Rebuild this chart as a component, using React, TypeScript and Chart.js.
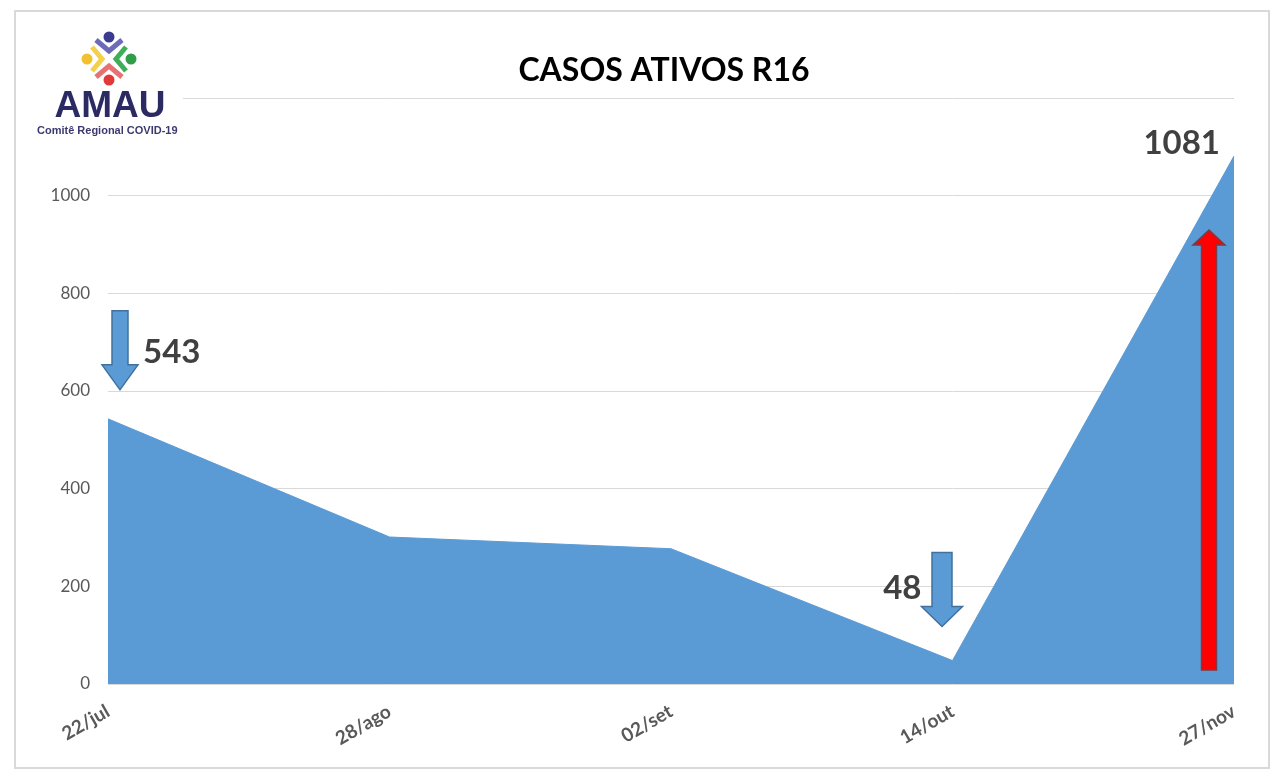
import React, { useEffect, useRef } from "react";
import { Chart, registerables } from "chart.js";

Chart.register(...registerables);

const categories = ["22/jul", "28/ago", "02/set", "14/out", "27/nov"];
const activeCases = [543, 301, 277, 48, 1081];
const yMin = 0;
const yMax = 1200;
const yStep = 200;
const titleText = "CASOS ATIVOS R16";
const calloutLabels = ["543", "48", "1081"];

const FONT = "Lato, 'Open Sans', 'DejaVu Sans', sans-serif";
const LOGO_FONT = "'Liberation Sans', Arial, sans-serif";

function blueDownArrow(ctx: CanvasRenderingContext2D, cx: number, top: number, tip: number, shaftW: number, headW: number, headH: number) {
  const headTop = tip - headH;
  ctx.beginPath();
  ctx.moveTo(cx - shaftW / 2, top);
  ctx.lineTo(cx + shaftW / 2, top);
  ctx.lineTo(cx + shaftW / 2, headTop);
  ctx.lineTo(cx + headW / 2, headTop);
  ctx.lineTo(cx, tip);
  ctx.lineTo(cx - headW / 2, headTop);
  ctx.lineTo(cx - shaftW / 2, headTop);
  ctx.closePath();
  ctx.fillStyle = "#5b9bd5";
  ctx.fill();
  ctx.strokeStyle = "#41719c";
  ctx.lineWidth = 1.5;
  ctx.stroke();
}

function redUpArrow(ctx: CanvasRenderingContext2D, cx: number, bottom: number, tip: number, shaftW: number, headW: number, headH: number) {
  const headBase = tip + headH;
  ctx.beginPath();
  ctx.moveTo(cx - shaftW / 2, bottom);
  ctx.lineTo(cx + shaftW / 2, bottom);
  ctx.lineTo(cx + shaftW / 2, headBase);
  ctx.lineTo(cx + headW / 2, headBase);
  ctx.lineTo(cx, tip);
  ctx.lineTo(cx - headW / 2, headBase);
  ctx.lineTo(cx - shaftW / 2, headBase);
  ctx.closePath();
  ctx.fillStyle = "#ff0000";
  ctx.fill();
  ctx.strokeStyle = "#7a3b4a";
  ctx.lineWidth = 1.5;
  ctx.stroke();
}

function chevronPerson(ctx: CanvasRenderingContext2D, hx: number, hy: number, r: number, headColor: string, armColor: string, pts: number[][]) {
  ctx.beginPath();
  ctx.moveTo(pts[0][0], pts[0][1]);
  ctx.lineTo(pts[1][0], pts[1][1]);
  ctx.lineTo(pts[2][0], pts[2][1]);
  ctx.strokeStyle = armColor;
  ctx.lineWidth = 5;
  ctx.lineCap = "butt";
  ctx.lineJoin = "miter";
  ctx.stroke();
  ctx.beginPath();
  ctx.arc(hx, hy, r, 0, Math.PI * 2);
  ctx.fillStyle = headColor;
  ctx.fill();
}

const framePlugin = {
  id: "frame",
  beforeDraw(chart: any) {
    const ctx = chart.ctx as CanvasRenderingContext2D;
    ctx.save();
    ctx.fillStyle = "#ffffff";
    ctx.fillRect(0, 0, chart.width, chart.height);
    ctx.strokeStyle = "#d9d9d9";
    ctx.lineWidth = 2;
    ctx.strokeRect(15, 11, 1254, 757);
    ctx.restore();
  },
};

const annotationPlugin = {
  id: "annotations",
  afterDatasetsDraw(chart: any) {
    const ctx = chart.ctx as CanvasRenderingContext2D;
    const xs = chart.scales.x;
    const ys = chart.scales.y;
    ctx.save();
    const p0x = xs.getPixelForValue(0);
    const p0y = ys.getPixelForValue(activeCases[0]);
    const p3x = xs.getPixelForValue(3);
    const p3y = ys.getPixelForValue(activeCases[3]);
    const p4x = xs.getPixelForValue(4);
    const p4y = ys.getPixelForValue(activeCases[4]);
    const baseY = ys.getPixelForValue(0);

    blueDownArrow(ctx, p0x + 12, p0y - 108, p0y - 29, 16, 36, 25);
    blueDownArrow(ctx, p3x - 10.5, p3y - 108, p3y - 34, 20, 41, 20);
    redUpArrow(ctx, p4x - 25, baseY - 14, p4y + 74, 15, 32, 15);

    ctx.fillStyle = "#404040";
    ctx.font = `bold 33px ${FONT}`;
    ctx.textBaseline = "middle";
    ctx.textAlign = "left";
    ctx.fillText(calloutLabels[0], p0x + 35, p0y - 66);
    ctx.textAlign = "right";
    ctx.fillText(calloutLabels[1], p3x - 31, p3y - 72);
    ctx.fillText(calloutLabels[2], p4x - 14, p4y - 13);

    ctx.fillStyle = "#000000";
    ctx.font = `bold 32px ${FONT}`;
    ctx.textAlign = "center";
    ctx.fillText(titleText, 664, 71);
    ctx.restore();
  },
  afterDraw(chart: any) {
    const ctx = chart.ctx as CanvasRenderingContext2D;
    ctx.save();
    ctx.fillStyle = "#ffffff";
    ctx.fillRect(25, 20, 158, 122);
    chevronPerson(ctx, 109, 37, 5.5, "#3b3b8f", "#6b6bb8", [[96, 40], [109, 51], [122, 40]]);
    chevronPerson(ctx, 131, 59, 5.5, "#2f9e48", "#3fae58", [[126, 47], [116, 59], [126, 71]]);
    chevronPerson(ctx, 87, 59, 5.5, "#f2c12e", "#f5d04a", [[92, 47], [102, 59], [92, 71]]);
    chevronPerson(ctx, 109, 80, 5.5, "#e23838", "#e87272", [[96, 77], [109, 66], [122, 77]]);
    ctx.fillStyle = "#2b2a62";
    ctx.font = `bold 37px ${LOGO_FONT}`;
    ctx.textAlign = "center";
    ctx.textBaseline = "alphabetic";
    ctx.fillText("AMAU", 110, 117, 112);
    ctx.fillStyle = "#3a3a70";
    ctx.font = `bold 11px ${LOGO_FONT}`;
    ctx.textAlign = "left";
    ctx.fillText("Comitê Regional COVID-19", 37, 134, 146);
    ctx.restore();
  },
};

export default function App() {
  const canvasRef = useRef<HTMLCanvasElement | null>(null);

  useEffect(() => {
    if (!canvasRef.current) return;
    const chart = new Chart(canvasRef.current, {
      type: "line",
      data: {
        labels: categories,
        datasets: [
          {
            label: "Casos ativos",
            data: activeCases,
            fill: "origin",
            backgroundColor: "#5b9bd5",
            borderColor: "#5b9bd5",
            borderWidth: 1,
            pointRadius: 0,
            tension: 0,
          },
        ],
      },
      options: {
        animation: false,
        responsive: false,
        maintainAspectRatio: false,
        layout: { padding: { left: 20, right: 46, top: 98, bottom: 15 } },
        plugins: {
          legend: { display: false },
          title: { display: false },
          tooltip: { enabled: false },
        },
        scales: {
          x: {
            type: "category",
            offset: false,
            grid: { display: false, drawTicks: false },
            border: { display: false },
            ticks: {
              color: "#595959",
              font: { family: FONT, size: 19, weight: "bold" },
              maxRotation: 30,
              minRotation: 30,
              padding: 16,
              autoSkip: false,
            },
            afterFit(scale: any) {
              scale.height = 80;
              scale.paddingLeft = 0;
              scale.paddingRight = 0;
            },
          },
          y: {
            min: yMin,
            max: yMax,
            grid: { color: "#d9d9d9", lineWidth: 1, drawTicks: false },
            border: { display: false },
            ticks: {
              stepSize: yStep,
              color: "#595959",
              font: { family: FONT, size: 17 },
              padding: 18,
              callback: (value: any) => String(value),
            },
            afterFit(scale: any) {
              scale.width = 88;
              scale.paddingTop = 0;
              scale.paddingBottom = 0;
            },
          },
        },
      },
      plugins: [framePlugin, annotationPlugin],
    } as any);
    return () => chart.destroy();
  }, []);

  return (
    <div style={{ position: "fixed", left: 0, top: 0, width: 1280, height: 779, background: "#fff" }}>
      <canvas ref={canvasRef} width={1280} height={779} style={{ width: 1280, height: 779, display: "block" }} />
    </div>
  );
}
